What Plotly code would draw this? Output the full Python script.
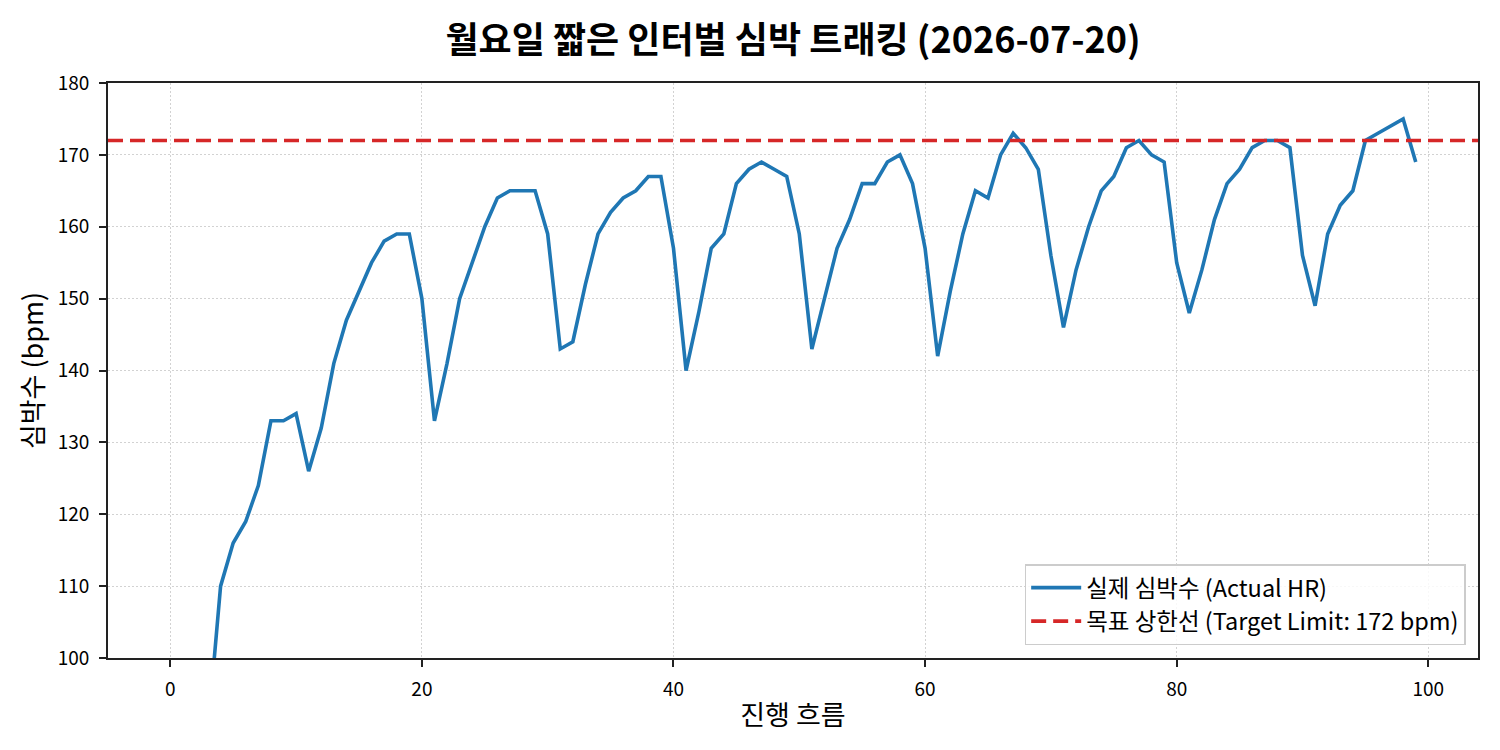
import plotly.graph_objects as go

steps = list(range(100))
heart_rate = [75, 80, 85, 90, 110, 116, 119, 124, 133, 133,
              134, 126, 132, 141, 147, 151, 155, 158, 159, 159,
              150, 133, 141, 150, 155, 160, 164, 165, 165, 165,
              159, 143, 144, 152, 159, 162, 164, 165, 167, 167,
              157, 140, 148, 157, 159, 166, 168, 169, 168, 167,
              159, 143, 150, 157, 161, 166, 166, 169, 170, 166,
              157, 142, 151, 159, 165, 164, 170, 173, 171, 168,
              156, 146, 154, 160, 165, 167, 171, 172, 170, 169,
              155, 148, 154, 161, 166, 168, 171, 172, 172, 171,
              156, 149, 159, 163, 165, 172, 173, 174, 175, 169]
target_limit = 172
x_ticks = [0, 20, 40, 60, 80, 100]
y_ticks = [100, 110, 120, 130, 140, 150, 160, 170, 180]

FONT = "Noto Sans CJK KR"
DASH = "15px,7px"

fig = go.Figure()
fig.add_trace(go.Scatter(
    x=steps, y=heart_rate, mode="lines",
    name="실제 심박수 (Actual HR)", legendgroup="a",
    line=dict(color="#1f77b4", width=3.6),
))
fig.add_hline(y=target_limit, line=dict(color="#d62728", width=3.6, dash=DASH))
fig.add_trace(go.Scatter(
    x=[None], y=[None], mode="lines",
    name=f"목표 상한선 (Target Limit: {target_limit} bpm)", legendgroup="b",
    line=dict(color="#d62728", width=3.6, dash=DASH),
))

axis_common = dict(
    showline=True, linecolor="#222222", linewidth=1.7, mirror=True,
    ticks="outside", ticklen=7, tickwidth=1.7, tickcolor="#222222",
    showgrid=True, gridcolor="#d2d2d2", griddash="1.5px,2.5px", gridwidth=1.3,
    zeroline=False, tickfont=dict(family=FONT, size=19, color="black"),
    ticklabelstandoff=6,
)

fig.update_layout(
    width=1500, height=750,
    margin=dict(l=108, r=22, t=83, b=92),
    paper_bgcolor="white", plot_bgcolor="white",
    font=dict(family=FONT, color="black"),
    title=dict(text="<b>월요일 짧은 인터벌 심박 트래킹 (2026-07-20)</b>",
               x=(108 + 1478) / 2 / 1500, xanchor="center",
               y=1 - 40 / 750, yanchor="middle",
               font=dict(family=FONT, size=36, color="black")),
    xaxis=dict(range=[-4.95, 103.95], tickvals=x_ticks,
               title=dict(text="진행 흐름", font=dict(family=FONT, size=27), standoff=6),
               **axis_common),
    yaxis=dict(range=[100, 180], tickvals=y_ticks,
               title=dict(text="심박수 (bpm)", font=dict(family=FONT, size=27), standoff=6),
               **axis_common),
    legend=dict(x=0.991, y=0.022, xanchor="right", yanchor="bottom",
                bgcolor="rgba(255,255,255,0.85)", bordercolor="#cccccc", borderwidth=1.5,
                font=dict(family=FONT, size=23.5, color="black"),
                traceorder="grouped", tracegroupgap=0, itemwidth=50),
    showlegend=True,
)

fig.write_html("out.html")
